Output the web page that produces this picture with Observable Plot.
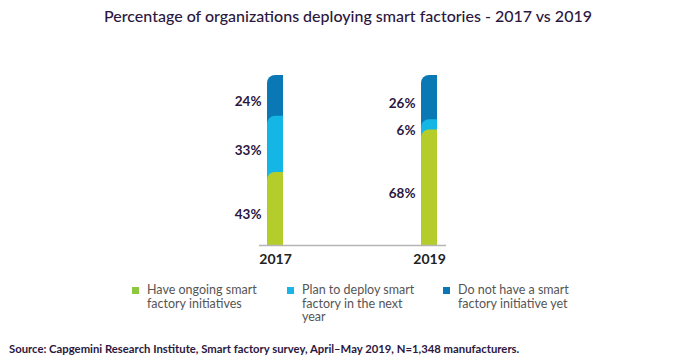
<!DOCTYPE html>
<html>
<head>
<meta charset="utf-8">
<script src="https://cdn.jsdelivr.net/npm/d3@7"></script>
<script src="https://cdn.jsdelivr.net/npm/@observablehq/plot@0.6"></script>
<style>
  html, body { margin: 0; padding: 0; background: #fff; }
  #root { position: relative; width: 680px; height: 364px; overflow: hidden; font-family: Lato, "Open Sans", sans-serif; }
  #title { position: absolute; top: 6px; left: 0; width: 680px; padding-left: 8px; text-align: center; font-size: 16px; font-weight: 500; color: #2c1740; }
  #chart { position: absolute; top: 0; left: 0; }
  .leg { position: absolute; top: 283px; font-size: 12.5px; line-height: 13.5px; color: #555; }
  .leg .sw { position: absolute; left: -15px; top: 4px; width: 7px; height: 7px; }
  #source { position: absolute; left: 9px; top: 342px; font-size: 11.3px; font-weight: 700; color: #2c1740; }
</style>
</head>
<body>
<div id="root">
  <div id="title">Percentage of organizations deploying smart factories - 2017 vs 2019</div>
  <div id="chart"></div>
  <div id="legend"></div>
  <div id="source">Source: Capgemini Research Institute, Smart factory survey, April–May 2019, N=1,348 manufacturers.</div>
</div>
<script>
const years = ["2017", "2019"];
const series = ["Have ongoing smart factory initiatives", "Plan to deploy smart factory in the next year", "Do not have a smart factory initiative yet"];
const ongoing = [43, 68];
const plan = [33, 6];
const notYet = [24, 26];
const barColors = ["#b5cd2b", "#14b6e6", "#0a78b5"];
const legendColors = ["#8dc63f", "#1ab4e6", "#0a76b5"];

const values = [ongoing, plan, notYet];
const rows = [];
years.forEach((yr, i) => {
  let base = 0;
  values.forEach((vals, s) => {
    rows.push({year: yr, series: series[s], s, value: vals[i], y1: base, y2: base + vals[i], label: vals[i] + "%"});
    base += vals[i];
  });
});
// draw cumulative bars from top series down so each rounded corner overlays the one above
const drawRows = rows.slice().sort((a, b) => b.s - a.s).map(d => ({...d, y1: 0}));

const plot = Plot.plot({
  width: 680,
  height: 275,
  marginTop: 75,
  marginBottom: 30,
  marginLeft: 259,
  marginRight: 234,
  x: {domain: years, paddingInner: 0.893, paddingOuter: 0.053, align: 0.5, axis: null},
  y: {domain: [0, 100], axis: null},
  color: {domain: series, range: barColors},
  marks: [
    Plot.barY(drawRows, {x: "year", y1: "y1", y2: "y2", fill: "series"}),
    Plot.ruleY([0], {stroke: "#b5b5b5", strokeWidth: 1.5}),
    Plot.text(rows, {x: "year", y: d => (d.y1 + d.y2) / 2, text: "label", textAnchor: "end", dx: -14, dy: 6,
      fontSize: 13.5, fontWeight: 700, fill: "#2c1740", fontFamily: "Lato, 'Open Sans', sans-serif"}),
    Plot.text(years, {x: d => d, y: 0, text: d => d, dy: 14, fontSize: 14, fontWeight: 700, fill: "#222",
      fontFamily: "Lato, 'Open Sans', sans-serif"})
  ]
});

// Round only the top-left corner of each bar rect (as in the reference)
const r = 8;
plot.querySelectorAll('g[aria-label="bar"] rect').forEach(rect => {
  const x = +rect.getAttribute("x"), y = +rect.getAttribute("y");
  const w = +rect.getAttribute("width"), h = +rect.getAttribute("height");
  const rr = Math.min(r, w, h);
  const p = document.createElementNS("http://www.w3.org/2000/svg", "path");
  p.setAttribute("d", `M${x},${y + h}V${y + rr}A${rr},${rr} 0 0 1 ${x + rr},${y}H${x + w}V${y + h}Z`);
  for (const a of rect.attributes) if (!["x", "y", "width", "height"].includes(a.name)) p.setAttribute(a.name, a.value);
  rect.replaceWith(p);
});
document.getElementById("chart").appendChild(plot);

const legendX = [147, 302, 458];
const legendLines = [["Have ongoing smart", "factory initiatives"], ["Plan to deploy smart", "factory in the next", "year"], ["Do not have a smart", "factory initiative yet"]];
const legend = document.getElementById("legend");
series.forEach((s, i) => {
  const div = document.createElement("div");
  div.className = "leg";
  div.style.left = legendX[i] + "px";
  div.innerHTML = `<span class="sw" style="background:${legendColors[i]}"></span>` + legendLines[i].join("<br>");
  legend.appendChild(div);
});
</script>
</body>
</html>
